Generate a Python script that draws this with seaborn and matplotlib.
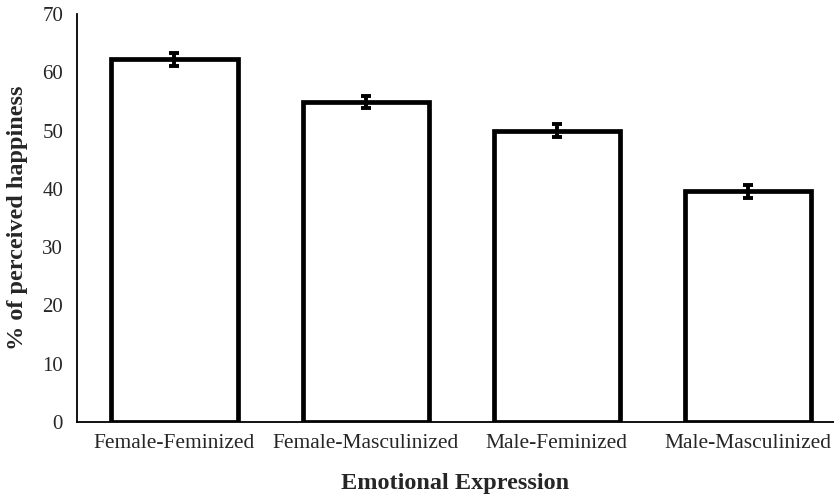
import matplotlib
matplotlib.use("Agg")
import matplotlib.pyplot as plt
import seaborn as sns
import pandas as pd

categories = ["Female-Feminized", "Female-Masculinized", "Male-Feminized", "Male-Masculinized"]
values = [62.2, 54.9, 50.0, 39.6]
errors = [1.1, 1.1, 1.1, 1.1]
yticks = [0, 10, 20, 30, 40, 50, 60, 70]

df = pd.DataFrame({"cat": categories, "val": values})

sns.set_style("white")
plt.rcParams['font.family'] = ['Liberation Serif', 'DejaVu Serif']

fig = plt.figure(figsize=(8.34, 4.96), dpi=100)
ax = fig.add_axes([77/834, 1 - 422/496, 1 - 77/834, (422 - 14)/496])

sns.barplot(data=df, x="cat", y="val", ax=ax, color="white", edgecolor="black",
            linewidth=3.4, width=0.66, errorbar=None)
ax.errorbar(range(len(categories)), values, yerr=errors, fmt="none",
            ecolor="black", elinewidth=2.8, capsize=3.8, capthick=2.8, zorder=5)

ax.set_ylim(0, 70)
ax.set_xlim(-0.51, 3.45)
ax.set_yticks(yticks)
ax.tick_params(axis="y", direction="out", length=4, width=1.3, labelsize=15, color="black", pad=6)
ax.tick_params(axis="x", length=0, labelsize=15.5, pad=9)
for s in ["top", "right"]:
    ax.spines[s].set_visible(False)
for s in ["left", "bottom"]:
    ax.spines[s].set_linewidth(1.3)
    ax.spines[s].set_color("black")
ax.set_xlabel("Emotional Expression", fontsize=17.5, fontweight="bold", labelpad=14)
ax.set_ylabel("% of perceived happiness", fontsize=17.5, fontweight="bold", labelpad=10)

fig.savefig("out.png", dpi=100)
